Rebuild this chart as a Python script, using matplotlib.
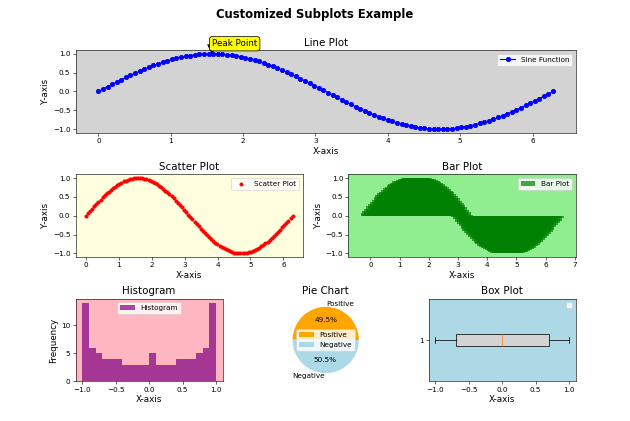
import numpy as np
import matplotlib
matplotlib.use("Agg")
import matplotlib.pyplot as plt
from matplotlib.gridspec import GridSpec

# ---- data ----
x_start, x_end, n_points = 0.0, 6.2832, 100
sine_values = [
    0.000, 0.063, 0.127, 0.189, 0.251, 0.312, 0.372, 0.430, 0.486, 0.541,
    0.593, 0.643, 0.690, 0.735, 0.776, 0.815, 0.850, 0.881, 0.910, 0.934,
    0.955, 0.972, 0.985, 0.994, 0.999, 0.9999, 0.997, 0.990, 0.979, 0.964,
    0.945, 0.922, 0.896, 0.866, 0.833, 0.796, 0.756, 0.713, 0.667, 0.618,
    0.567, 0.514, 0.458, 0.401, 0.342, 0.282, 0.220, 0.158, 0.095, 0.032,
    -0.032, -0.095, -0.158, -0.220, -0.282, -0.342, -0.401, -0.458, -0.514, -0.567,
    -0.618, -0.667, -0.713, -0.756, -0.796, -0.833, -0.866, -0.896, -0.922, -0.945,
    -0.964, -0.979, -0.990, -0.997, -0.9999, -0.999, -0.994, -0.985, -0.972, -0.955,
    -0.934, -0.910, -0.881, -0.850, -0.815, -0.776, -0.735, -0.690, -0.643, -0.593,
    -0.541, -0.486, -0.430, -0.372, -0.312, -0.251, -0.189, -0.127, -0.063, -0.000,
]
pie_labels = ["Positive", "Negative"]
pie_counts = [49, 50]
pie_colors = ["orange", "lightblue"]
peak_x, peak_y = 1.5708, 1.0
peak_text_x, peak_text_y = 1.5708, 1.2
hist_bins = 20

x = np.linspace(x_start, x_end, n_points)
y = np.array(sine_values)

TITLE_FS = 14
LABEL_FS = 12

fig = plt.figure(figsize=(12, 8.02), dpi=52.5)
gs2 = GridSpec(3, 2, figure=fig, left=0.12, right=0.914, top=0.881,
               bottom=0.094, hspace=0.5, wspace=0.2)
gs3 = GridSpec(3, 3, figure=fig, left=0.12, right=0.914, top=0.881,
               bottom=0.094, hspace=0.5, wspace=0.2)

fig.suptitle("Customized Subplots Example", fontsize=16, fontweight="bold")

# Line plot
ax1 = fig.add_subplot(gs2[0, :])
ax1.plot(x, y, color="blue", marker="o", label="Sine Function")
ax1.set_facecolor("lightgray")
ax1.set_title("Line Plot", fontsize=TITLE_FS)
ax1.set_xlabel("X-axis", fontsize=LABEL_FS)
ax1.set_ylabel("Y-axis", fontsize=LABEL_FS)
ax1.legend(loc="upper right")
ax1.annotate("Peak Point", xy=(peak_x, peak_y), xytext=(peak_text_x, peak_text_y),
             fontsize=12,
             arrowprops=dict(facecolor="black", shrink=0.05),
             bbox=dict(boxstyle="round", facecolor="yellow", edgecolor="black"))

# Scatter plot
ax2 = fig.add_subplot(gs2[1, 0])
ax2.scatter(x, y, color="red", s=20, label="Scatter Plot")
ax2.set_facecolor("lightyellow")
ax2.set_title("Scatter Plot", fontsize=TITLE_FS)
ax2.set_xlabel("X-axis", fontsize=LABEL_FS)
ax2.set_ylabel("Y-axis", fontsize=LABEL_FS)
ax2.legend(loc="upper right")

# Bar plot
ax3 = fig.add_subplot(gs2[1, 1])
ax3.bar(x, y, color="green", alpha=0.7, label="Bar Plot")
ax3.set_facecolor("lightgreen")
ax3.set_title("Bar Plot", fontsize=TITLE_FS)
ax3.set_xlabel("X-axis", fontsize=LABEL_FS)
ax3.set_ylabel("Y-axis", fontsize=LABEL_FS)
ax3.legend(loc="upper right")

# Histogram
ax4 = fig.add_subplot(gs3[2, 0])
ax4.hist(y, bins=hist_bins, color="purple", alpha=0.7, label="Histogram")
ax4.set_facecolor("lightpink")
ax4.set_title("Histogram", fontsize=TITLE_FS)
ax4.set_xlabel("X-axis", fontsize=LABEL_FS)
ax4.set_ylabel("Frequency", fontsize=LABEL_FS)
ax4.legend()

# Pie chart
ax5 = fig.add_subplot(gs3[2, 1])
ax5.pie(pie_counts, labels=pie_labels, colors=pie_colors, autopct="%1.1f%%")
ax5.set_title("Pie Chart", fontsize=TITLE_FS)
ax5.legend()

# Box plot
ax6 = fig.add_subplot(gs3[2, 2])
ax6.boxplot(y, vert=False, patch_artist=True,
            boxprops=dict(facecolor="lightgray"))
ax6.set_facecolor("lightblue")
ax6.set_title("Box Plot", fontsize=TITLE_FS)
ax6.set_xlabel("X-axis", fontsize=LABEL_FS)
ax6.legend()

fig.savefig("out.png", dpi=52.5)
